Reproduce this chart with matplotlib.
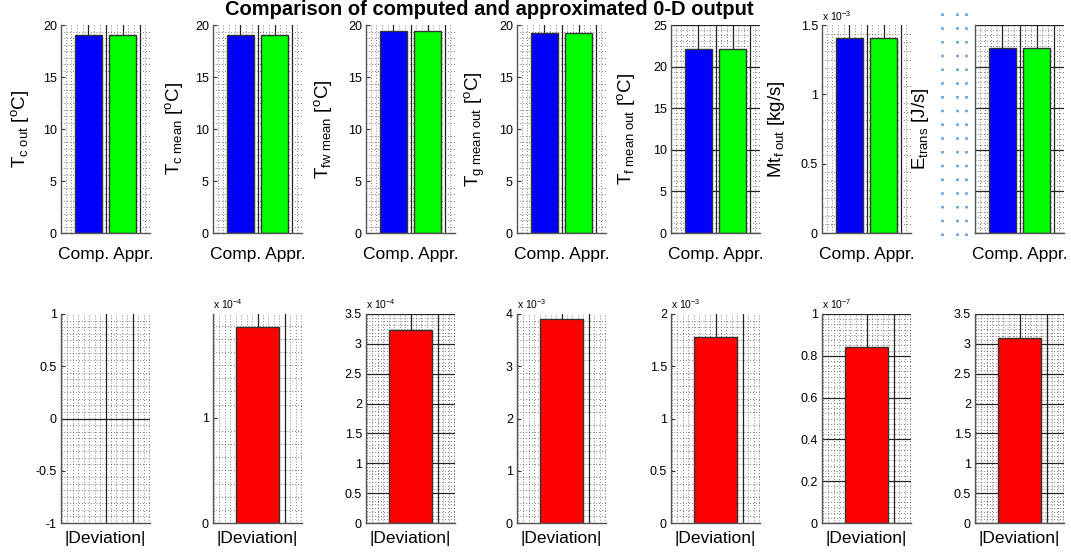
import numpy as np
import matplotlib
matplotlib.use('Agg')
import matplotlib.pyplot as plt
from matplotlib.ticker import MultipleLocator, FuncFormatter, NullFormatter, AutoMinorLocator
from matplotlib.lines import Line2D

plt.rcParams['font.family'] = ['Liberation Sans', 'DejaVu Sans']
plt.rcParams['mathtext.fontset'] = 'custom'
plt.rcParams['mathtext.rm'] = 'Liberation Sans'
plt.rcParams['mathtext.it'] = 'Liberation Sans'

title = 'Comparison of computed and approximated 0-D output'

# top row: computed vs approximated values
positions = [1, 2]
ylabels = [r'T$_{\mathrm{c\ out}}$ [$^{\mathrm{o}}$C]',
           r'T$_{\mathrm{c\ mean}}$ [$^{\mathrm{o}}$C]',
           r'T$_{\mathrm{fw\ mean}}$ [$^{\mathrm{o}}$C]',
           r'T$_{\mathrm{g\ mean\ out}}$ [$^{\mathrm{o}}$C]',
           r'T$_{\mathrm{f\ mean\ out}}$ [$^{\mathrm{o}}$C]',
           r'Mt$_{\mathrm{f\ out}}$ [kg/s]',
           r'E$_{\mathrm{trans}}$ [J/s]']
computed = [19.0, 19.0, 19.45, 19.25, 22.1, 1.405e-3, 2220]
approximated = [19.0, 19.0, 19.45, 19.25, 22.1, 1.405e-3, 2220]
top_ylim = [(0, 20), (0, 20), (0, 20), (0, 20), (0, 25), (0, 1.5e-3), (0, 2500)]
top_step = [5, 5, 5, 5, 5, 0.5e-3, 500]
top_exp = [0, 0, 0, 0, 0, -3, 0]
top_hgrid = [False, False, False, False, True, False, True]
top_ticklabels = [True, True, True, True, True, True, False]

# bottom row: absolute deviation
deviation = [0.0, 1.865e-4, 3.24e-4, 3.9e-3, 1.78e-3, 0.84e-7, 3.1]
dev_ylim = [(-1, 1), (0, 1.985e-4), (0, 3.5e-4), (0, 4e-3), (0, 2e-3), (0, 1e-7), (0, 3.5)]
dev_step = [0.5, 1e-4, 0.5e-4, 1e-3, 0.5e-3, 0.2e-7, 0.5]
dev_exp = [0, -4, -4, -3, -3, -7, 0]
dev_hgrid = ['zero', False, True, False, False, True, True]

W, H = 1071, 554
lefts = [61, 213, 366, 517, 671, 822, 975]
ax_w = 89
label_x = [-0.34, -0.32, -0.36, -0.34, -0.38, -0.39, -0.49]

fig = plt.figure(figsize=(W / 100, H / 100), dpi=100)


def fmt_for(exp):
    def f(v, pos):
        s = '%.2f' % (v / 10.0 ** exp)
        s = s.rstrip('0').rstrip('.')
        if s == '-0':
            s = '0'
        return s
    return FuncFormatter(f)


def style(ax, step, exp, hgrid, show_labels, nx):
    ax.set_axisbelow(True)
    ax.yaxis.set_major_locator(MultipleLocator(step))
    ax.yaxis.set_major_formatter(fmt_for(exp) if show_labels else NullFormatter())
    ax.xaxis.set_major_formatter(NullFormatter())
    ax.xaxis.set_minor_locator(AutoMinorLocator(nx))
    ax.yaxis.set_minor_locator(AutoMinorLocator(8))
    ax.tick_params(which='major', direction='in', length=3, labelsize=9,
                   color='#333333', pad=3)
    ax.tick_params(which='minor', length=0)
    ax.grid(which='minor', color='#555555', lw=0.6, ls=(0, (1, 2.5)))
    ax.grid(which='major', axis='x', color='#222222', lw=0.9, ls='-')
    if hgrid is True:
        ax.grid(which='major', axis='y', color='#222222', lw=0.9, ls='-')
    elif hgrid == 'zero':
        ax.axhline(0, color='#222222', lw=0.9, zorder=0.5)
    for sp in ('top', 'right'):
        ax.spines[sp].set_visible(False)
    for sp in ('left', 'bottom'):
        ax.spines[sp].set_color('#555555')
        ax.spines[sp].set_linewidth(1.0)
    if exp != 0 and show_labels:
        ax.text(0, 1.012, r'x 10$^{%d}$' % exp, transform=ax.transAxes,
                ha='left', va='bottom', fontsize=7.5)


for i in range(7):
    ax = fig.add_axes([lefts[i] / W, 1 - 233 / H, ax_w / W, 208 / H])
    ax.bar(positions, [computed[i], approximated[i]], width=0.8,
           color=['#0000ff', '#00ff00'], edgecolor='#333333', lw=1.0, zorder=2)
    ax.set_xlim(0.2, 2.8)
    ax.set_ylim(*top_ylim[i])
    ax.set_xticks([1, 1.5, 2, 2.5])
    style(ax, top_step[i], top_exp[i], top_hgrid[i], top_ticklabels[i], 3)
    ax.set_xlabel('Comp. Appr.', fontsize=12.5, labelpad=7)
    ax.set_ylabel(ylabels[i], fontsize=13.5)
    ax.yaxis.set_label_coords(label_x[i], 0.5)

    ax = fig.add_axes([lefts[i] / W, 1 - 523 / H, ax_w / W, 209 / H])
    if deviation[i] != 0:
        ax.bar([1], [deviation[i]], width=0.8, color='#ff0000',
               edgecolor='#333333', lw=1.0, zorder=2)
    ax.set_xlim(0.19, 1.81)
    ax.set_ylim(*dev_ylim[i])
    ax.set_xticks([1, 1.5])
    style(ax, dev_step[i], dev_exp[i], dev_hgrid[i], True, 5)
    ax.set_xlabel('|Deviation|', fontsize=12.5, labelpad=2)

# stray dotted columns next to the last top panel
for xp in (942, 957, 966):
    fig.add_artist(Line2D([xp / W, xp / W], [1 - 13 / H, 1 - 238 / H],
                          color='#5b9bd5', lw=1.8, ls=(0, (1, 4.5))))

fig.text(489 / W, 1 - 15 / H, title, ha='center', va='baseline',
         fontsize=14.5, fontweight='bold')

fig.savefig('out.png', dpi=100)
